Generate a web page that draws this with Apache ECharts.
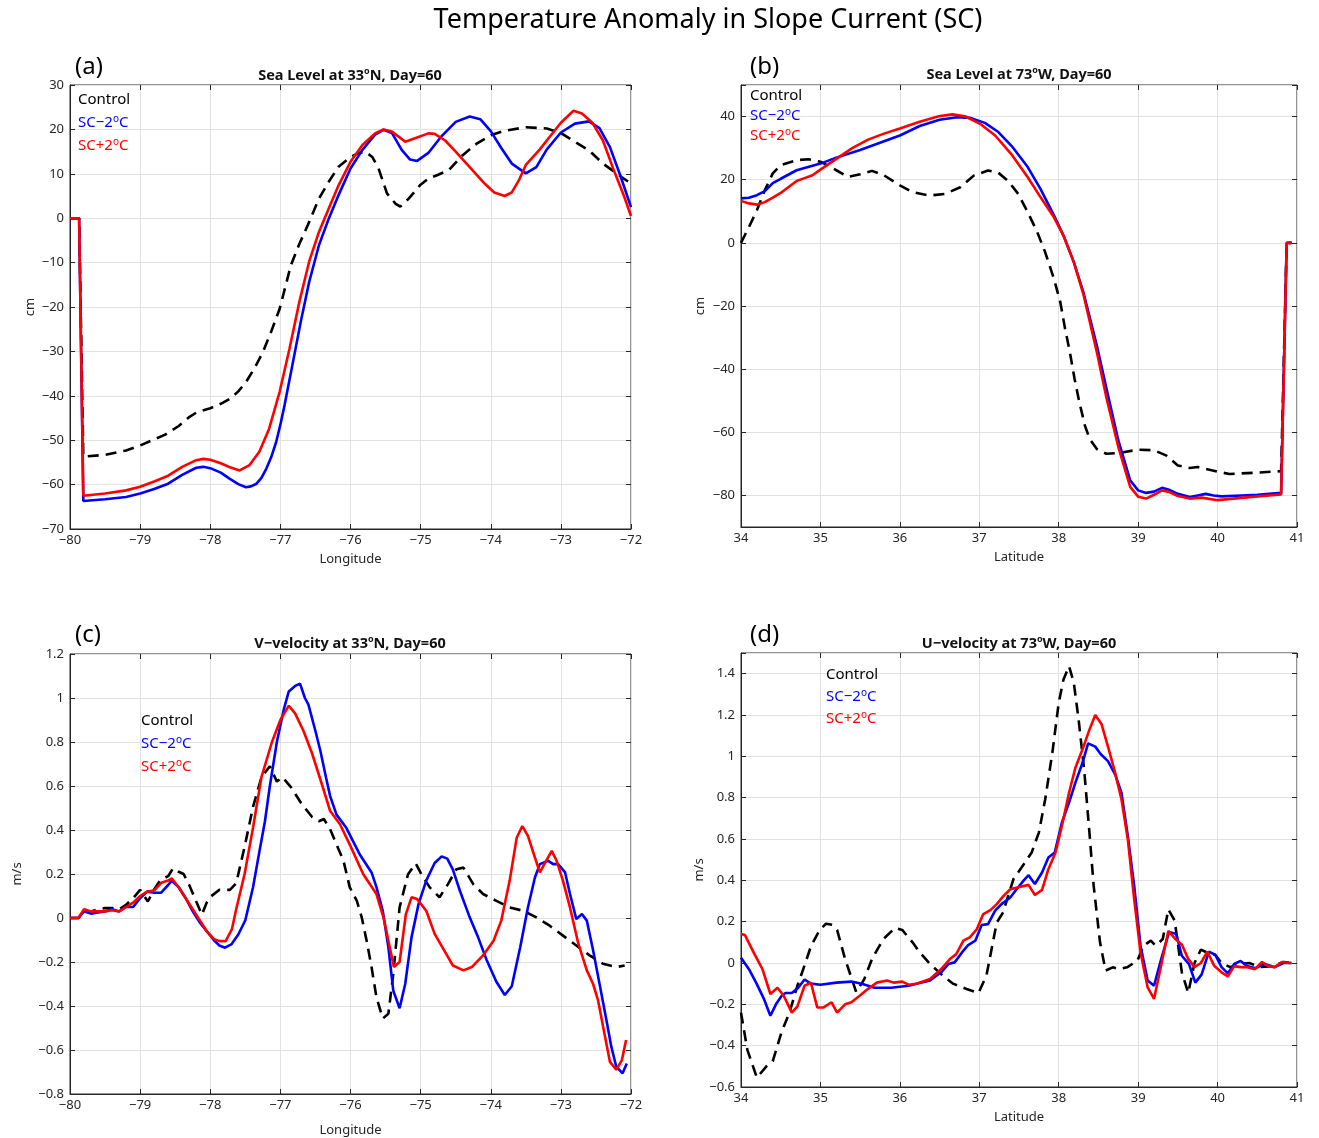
<!DOCTYPE html>
<html><head><meta charset="utf-8">
<script src="https://cdn.jsdelivr.net/npm/echarts@6/dist/echarts.min.js"></script>
<style>html,body{margin:0;padding:0;background:#fff}#c{width:1319px;height:1138px}</style>
</head><body><div id="c"></div><script>
// ---------- DATA ----------
const seriesNames = ['Control', 'SC-2°C', 'SC+2°C'];
// (a) Sea Level at 33N (cm) vs Longitude
const a_ctrl = [[-80,0],[-79.87,0],[-79.81,-53.7],[-79.5,-53.3],[-79.2,-52.3],[-79.0,-51.2],[-78.8,-49.8],[-78.65,-48.8],[-78.45,-46.8],[-78.3,-44.8],[-78.19,-43.7],[-78.0,-42.8],[-77.85,-41.8],[-77.72,-40.7],[-77.6,-39],[-77.49,-36.9],[-77.37,-33.8],[-77.25,-30.2],[-77.13,-25.5],[-77.01,-20.4],[-76.93,-15.5],[-76.85,-10.6],[-76.73,-5.8],[-76.61,-1.6],[-76.45,4.4],[-76.31,8.2],[-76.17,11.6],[-76.0,13.8],[-75.88,14.7],[-75.79,15],[-75.69,13.8],[-75.6,11.2],[-75.48,5.6],[-75.36,3.3],[-75.29,2.6],[-75.17,4.4],[-75.01,7.4],[-74.89,8.9],[-74.75,9.8],[-74.6,10.8],[-74.4,14.2],[-74.2,16.8],[-74.0,18.7],[-73.8,19.7],[-73.5,20.5],[-73.2,20.2],[-73.0,19.2],[-72.8,17.2],[-72.6,15.3],[-72.4,12.3],[-72.2,10],[-72.0,7.8]];
const a_cold = [[-80,0],[-79.87,0],[-79.81,-63.7],[-79.5,-63.3],[-79.2,-62.8],[-79.0,-62],[-78.8,-61],[-78.6,-59.8],[-78.4,-57.8],[-78.2,-56.2],[-78.1,-56],[-78.0,-56.3],[-77.85,-57.3],[-77.72,-58.7],[-77.6,-59.9],[-77.49,-60.6],[-77.42,-60.4],[-77.34,-59.8],[-77.27,-58.5],[-77.2,-56.4],[-77.13,-53.8],[-77.06,-50.4],[-77.0,-46.5],[-76.94,-42.1],[-76.83,-33.2],[-76.71,-23.4],[-76.59,-14.4],[-76.45,-6.1],[-76.31,-0.1],[-76.17,5.2],[-76.0,11.2],[-75.83,15.4],[-75.65,18.8],[-75.53,19.9],[-75.41,19.2],[-75.27,15.4],[-75.15,13.2],[-75.05,12.9],[-74.89,14.7],[-74.7,18.5],[-74.5,21.7],[-74.3,22.9],[-74.15,22.3],[-74.0,19.6],[-73.85,15.8],[-73.7,12.3],[-73.5,10.1],[-73.35,11.5],[-73.2,15.5],[-73.0,19.3],[-72.8,21.3],[-72.6,21.8],[-72.45,20.3],[-72.3,16],[-72.15,9.5],[-72.0,2.5]];
const a_warm = [[-80,0],[-79.87,0],[-79.81,-62.5],[-79.5,-62.0],[-79.2,-61.3],[-79.0,-60.5],[-78.8,-59.3],[-78.6,-58],[-78.4,-56],[-78.2,-54.5],[-78.1,-54.2],[-78.0,-54.4],[-77.85,-55.2],[-77.72,-56.1],[-77.58,-56.8],[-77.44,-55.6],[-77.3,-52.6],[-77.16,-47.4],[-77.01,-39.1],[-76.87,-29.4],[-76.73,-18.9],[-76.59,-9.8],[-76.45,-3.1],[-76.31,2.2],[-76.17,7.4],[-76.0,12.7],[-75.83,16.5],[-75.65,19.1],[-75.53,20],[-75.41,19.5],[-75.3,18.2],[-75.22,17.2],[-75.08,18],[-74.89,19.1],[-74.8,19],[-74.65,17.5],[-74.5,15],[-74.3,11.5],[-74.1,8],[-73.95,5.8],[-73.8,5],[-73.7,5.8],[-73.6,8.5],[-73.5,12],[-73.3,15.5],[-73.15,18.5],[-73.0,21.5],[-72.82,24.2],[-72.7,23.6],[-72.55,21.5],[-72.4,17.5],[-72.25,11],[-72.1,5],[-72.0,0.5]];
// (b) Sea Level at 73W (cm) vs Latitude
const b_ctrl = [[34.0,0],[34.1,5],[34.2,10.3],[34.3,16.7],[34.4,22],[34.5,24.6],[34.7,26.2],[34.85,26.5],[35.0,25.7],[35.2,23],[35.35,20.9],[35.5,21.7],[35.65,22.8],[35.8,21.4],[36.0,18.2],[36.16,16.1],[36.37,15],[36.57,15.5],[36.76,17.6],[36.93,21.3],[37.11,22.9],[37.24,22.2],[37.36,19.7],[37.49,15.5],[37.61,9.7],[37.73,3.4],[37.83,-3],[37.94,-11.4],[38.02,-18.8],[38.08,-27.2],[38.14,-34.6],[38.2,-43.1],[38.26,-50.5],[38.33,-57.9],[38.39,-62.1],[38.48,-65.3],[38.6,-66.8],[38.75,-66.6],[39.0,-65.5],[39.2,-65.7],[39.35,-67.3],[39.5,-70.5],[39.65,-71.3],[39.75,-71],[40.0,-72.5],[40.15,-73.2],[40.5,-72.8],[40.8,-72.3],[40.87,0],[40.93,0]];
const b_cold = [[34.0,14.1],[34.1,14.3],[34.2,15.1],[34.3,16.4],[34.4,18.9],[34.5,20.3],[34.7,23],[35.0,25.1],[35.2,27],[35.5,29.4],[35.75,31.7],[36.0,34],[36.25,37],[36.5,39],[36.72,39.8],[36.88,39.6],[37.07,38],[37.24,35.1],[37.42,30.3],[37.61,24],[37.77,17.1],[37.94,8.7],[38.06,2.3],[38.19,-6.1],[38.31,-15.6],[38.48,-32.5],[38.6,-46],[38.75,-62.5],[38.9,-75.2],[39.0,-78.4],[39.1,-79.2],[39.2,-78.8],[39.3,-77.6],[39.4,-78.3],[39.5,-79.5],[39.65,-80.5],[39.75,-80],[39.85,-79.5],[39.95,-80],[40.05,-80.3],[40.3,-80],[40.5,-79.8],[40.8,-79.2],[40.87,0],[40.93,0]];
const b_warm = [[34.0,13.3],[34.1,12.5],[34.2,12.1],[34.3,12.9],[34.4,14.3],[34.5,15.8],[34.6,17.7],[34.7,19.6],[34.8,20.5],[34.9,21.4],[35.0,23.2],[35.2,26.6],[35.4,30],[35.6,32.7],[35.8,34.6],[36.0,36.2],[36.24,38.3],[36.49,40.1],[36.66,40.7],[36.82,40.1],[37.01,37.7],[37.2,34],[37.4,28.2],[37.61,20.8],[37.77,14.5],[37.94,8.1],[38.06,2.3],[38.19,-6.1],[38.31,-16.2],[38.48,-34.6],[38.6,-49],[38.75,-64.6],[38.9,-77.3],[39.0,-80.4],[39.1,-81],[39.2,-79.8],[39.3,-78.4],[39.4,-79],[39.5,-80.2],[39.65,-81],[39.8,-80.7],[40.0,-81.5],[40.2,-81],[40.5,-80.3],[40.8,-79.7],[40.87,0],[40.93,0]];
// (c) V-velocity at 33N (m/s) vs Longitude
const c_ctrl = [[-80,0],[-79.88,0],[-79.8,0.03],[-79.7,0.03],[-79.6,0.04],[-79.5,0.045],[-79.4,0.045],[-79.3,0.04],[-79.2,0.06],[-79.1,0.09],[-79.0,0.128],[-78.89,0.075],[-78.8,0.13],[-78.71,0.173],[-78.6,0.19],[-78.53,0.226],[-78.45,0.21],[-78.38,0.2],[-78.3,0.15],[-78.23,0.098],[-78.12,0.015],[-78.05,0.07],[-77.99,0.098],[-77.87,0.128],[-77.72,0.128],[-77.63,0.158],[-77.51,0.324],[-77.39,0.505],[-77.27,0.64],[-77.15,0.69],[-77.05,0.62],[-76.97,0.64],[-76.85,0.595],[-76.7,0.52],[-76.55,0.46],[-76.45,0.44],[-76.38,0.45],[-76.29,0.403],[-76.2,0.335],[-76.1,0.26],[-76.01,0.139],[-75.91,0.078],[-75.84,0.003],[-75.77,-0.103],[-75.7,-0.223],[-75.63,-0.36],[-75.54,-0.457],[-75.46,-0.435],[-75.39,-0.254],[-75.3,0.048],[-75.18,0.199],[-75.07,0.248],[-74.99,0.199],[-74.87,0.139],[-74.73,0.094],[-74.61,0.154],[-74.49,0.222],[-74.39,0.229],[-74.25,0.154],[-74.11,0.109],[-73.92,0.078],[-73.73,0.048],[-73.54,0.033],[-73.35,0.003],[-73.16,-0.035],[-72.97,-0.08],[-72.78,-0.125],[-72.59,-0.17],[-72.4,-0.208],[-72.21,-0.223],[-72.09,-0.216]];
const c_cold = [[-80,0],[-79.88,0],[-79.8,0.03],[-79.7,0.02],[-79.6,0.025],[-79.5,0.03],[-79.4,0.04],[-79.3,0.03],[-79.2,0.05],[-79.1,0.05],[-79.0,0.09],[-78.9,0.12],[-78.8,0.115],[-78.7,0.115],[-78.6,0.15],[-78.55,0.17],[-78.45,0.14],[-78.35,0.09],[-78.25,0.03],[-78.15,-0.02],[-78.05,-0.06],[-77.95,-0.1],[-77.87,-0.125],[-77.79,-0.135],[-77.7,-0.12],[-77.6,-0.075],[-77.5,-0.01],[-77.39,0.14],[-77.3,0.3],[-77.22,0.44],[-77.15,0.6],[-77.05,0.8],[-76.95,0.95],[-76.88,1.03],[-76.79,1.055],[-76.72,1.065],[-76.65,1.0],[-76.6,0.97],[-76.5,0.85],[-76.43,0.76],[-76.35,0.64],[-76.29,0.554],[-76.2,0.47],[-76.06,0.41],[-75.87,0.29],[-75.7,0.207],[-75.63,0.14],[-75.54,0.033],[-75.46,-0.133],[-75.39,-0.33],[-75.3,-0.41],[-75.22,-0.3],[-75.13,-0.088],[-75.03,0.063],[-74.92,0.17],[-74.8,0.25],[-74.7,0.28],[-74.62,0.27],[-74.54,0.22],[-74.44,0.124],[-74.3,0.003],[-74.18,-0.088],[-74.06,-0.19],[-73.92,-0.29],[-73.8,-0.35],[-73.7,-0.31],[-73.58,-0.133],[-73.47,0.048],[-73.37,0.184],[-73.3,0.245],[-73.18,0.26],[-73.11,0.245],[-73.04,0.245],[-72.94,0.207],[-72.87,0.109],[-72.78,-0.005],[-72.7,0.018],[-72.63,-0.012],[-72.54,-0.148],[-72.44,-0.314],[-72.35,-0.465],[-72.28,-0.586],[-72.21,-0.676],[-72.12,-0.706],[-72.06,-0.661]];
const c_warm = [[-80,0],[-79.88,0],[-79.8,0.04],[-79.7,0.03],[-79.6,0.03],[-79.5,0.03],[-79.4,0.035],[-79.3,0.03],[-79.2,0.05],[-79.1,0.07],[-79.0,0.1],[-78.9,0.12],[-78.8,0.125],[-78.7,0.16],[-78.6,0.17],[-78.55,0.18],[-78.45,0.14],[-78.35,0.09],[-78.25,0.04],[-78.15,-0.01],[-78.05,-0.06],[-77.95,-0.095],[-77.87,-0.105],[-77.78,-0.105],[-77.69,-0.05],[-77.63,0.04],[-77.51,0.2],[-77.39,0.41],[-77.27,0.64],[-77.12,0.8],[-77.0,0.9],[-76.88,0.965],[-76.79,0.93],[-76.67,0.85],[-76.55,0.75],[-76.4,0.6],[-76.29,0.486],[-76.15,0.426],[-75.99,0.32],[-75.82,0.2],[-75.63,0.109],[-75.53,0.003],[-75.46,-0.103],[-75.38,-0.223],[-75.3,-0.2],[-75.21,0.018],[-75.13,0.094],[-75.05,0.086],[-74.92,0.033],[-74.8,-0.072],[-74.65,-0.155],[-74.54,-0.216],[-74.39,-0.238],[-74.27,-0.223],[-74.11,-0.17],[-73.96,-0.103],[-73.85,-0.012],[-73.73,0.17],[-73.63,0.365],[-73.55,0.418],[-73.47,0.373],[-73.37,0.275],[-73.3,0.207],[-73.21,0.26],[-73.13,0.305],[-73.06,0.26],[-72.97,0.169],[-72.87,0.048],[-72.75,-0.118],[-72.63,-0.238],[-72.54,-0.3],[-72.47,-0.374],[-72.37,-0.54],[-72.3,-0.654],[-72.21,-0.69],[-72.13,-0.646],[-72.07,-0.555]];
// (d) U-velocity at 73W (m/s) vs Latitude
const d_ctrl = [[34.0,-0.24],[34.08,-0.42],[34.2,-0.555],[34.32,-0.5],[34.4,-0.475],[34.51,-0.335],[34.61,-0.24],[34.71,-0.11],[34.77,-0.045],[34.88,0.08],[34.99,0.16],[35.07,0.19],[35.15,0.185],[35.21,0.16],[35.31,0.02],[35.45,-0.14],[35.55,-0.08],[35.65,0.02],[35.79,0.115],[35.94,0.17],[36.03,0.16],[36.16,0.1],[36.25,0.052],[36.38,-0.005],[36.54,-0.061],[36.67,-0.1],[36.84,-0.126],[36.99,-0.145],[37.09,-0.061],[37.22,0.196],[37.3,0.245],[37.43,0.406],[37.56,0.478],[37.66,0.535],[37.75,0.631],[37.83,0.792],[37.92,1.018],[38.0,1.259],[38.06,1.372],[38.13,1.436],[38.19,1.356],[38.25,1.179],[38.32,0.937],[38.38,0.663],[38.44,0.374],[38.52,0.1],[38.59,-0.037],[38.68,-0.021],[38.76,-0.029],[38.86,-0.021],[38.99,0.011],[39.07,0.084],[39.16,0.108],[39.22,0.084],[39.31,0.116],[39.38,0.26],[39.46,0.205],[39.55,-0.045],[39.63,-0.145],[39.71,0.0],[39.79,0.065],[39.87,0.05],[39.97,0.04],[40.05,0.0],[40.16,-0.02],[40.27,-0.005],[40.4,0.0],[40.53,-0.02],[40.69,-0.015],[40.83,0.005],[40.93,0]];
const d_cold = [[34.0,0.025],[34.1,-0.03],[34.19,-0.095],[34.29,-0.175],[34.37,-0.255],[34.44,-0.2],[34.51,-0.16],[34.56,-0.145],[34.64,-0.145],[34.72,-0.12],[34.8,-0.08],[34.88,-0.1],[35.0,-0.105],[35.2,-0.095],[35.39,-0.09],[35.52,-0.1],[35.68,-0.12],[35.89,-0.12],[36.11,-0.11],[36.21,-0.1],[36.38,-0.085],[36.52,-0.045],[36.61,-0.005],[36.69,0.003],[36.78,0.05],[36.86,0.087],[36.95,0.108],[37.03,0.184],[37.11,0.188],[37.2,0.253],[37.28,0.285],[37.39,0.317],[37.47,0.357],[37.56,0.4],[37.62,0.425],[37.7,0.382],[37.79,0.438],[37.87,0.51],[37.95,0.535],[38.04,0.68],[38.13,0.776],[38.21,0.873],[38.3,0.969],[38.37,1.063],[38.46,1.047],[38.53,1.01],[38.62,0.977],[38.71,0.913],[38.79,0.824],[38.87,0.615],[38.95,0.374],[39.03,0.084],[39.12,-0.085],[39.2,-0.11],[39.29,0.019],[39.39,0.15],[39.48,0.14],[39.55,0.035],[39.64,-0.005],[39.72,-0.095],[39.8,-0.055],[39.89,0.055],[39.97,0.04],[40.05,-0.02],[40.13,-0.05],[40.21,-0.005],[40.29,0.01],[40.37,-0.015],[40.48,-0.025],[40.59,-0.005],[40.72,-0.02],[40.83,0.0],[40.93,0]];
const d_warm = [[34.0,0.14],[34.05,0.135],[34.16,0.05],[34.27,-0.03],[34.37,-0.15],[34.46,-0.12],[34.54,-0.16],[34.64,-0.24],[34.71,-0.21],[34.8,-0.11],[34.88,-0.095],[34.96,-0.215],[35.04,-0.215],[35.14,-0.19],[35.21,-0.24],[35.31,-0.2],[35.39,-0.19],[35.49,-0.16],[35.6,-0.125],[35.71,-0.095],[35.84,-0.085],[35.92,-0.095],[36.03,-0.09],[36.11,-0.105],[36.21,-0.1],[36.38,-0.077],[36.52,-0.029],[36.63,0.019],[36.71,0.043],[36.8,0.108],[36.88,0.124],[36.97,0.164],[37.05,0.237],[37.14,0.256],[37.22,0.285],[37.3,0.322],[37.39,0.357],[37.49,0.366],[37.62,0.378],[37.7,0.329],[37.79,0.354],[37.87,0.454],[37.96,0.535],[38.04,0.663],[38.13,0.824],[38.21,0.945],[38.3,1.034],[38.38,1.122],[38.46,1.2],[38.54,1.155],[38.63,1.034],[38.71,0.921],[38.79,0.792],[38.87,0.599],[38.95,0.309],[39.03,0.052],[39.12,-0.118],[39.2,-0.174],[39.28,-0.029],[39.38,0.155],[39.47,0.115],[39.55,0.09],[39.63,0.02],[39.71,-0.02],[39.79,0.0],[39.87,0.055],[39.96,-0.015],[40.05,-0.045],[40.13,-0.065],[40.21,-0.015],[40.29,-0.02],[40.37,-0.02],[40.47,-0.03],[40.56,0.005],[40.64,-0.015],[40.72,-0.02],[40.81,0.005],[40.91,0.0],[40.93,0]];

const panelTitles = ['Sea Level at 33{s|o}N, Day=60', 'Sea Level at 73{s|o}W, Day=60', 'V\u2212velocity at 33{s|o}N, Day=60', 'U\u2212velocity at 73{s|o}W, Day=60'];
const panelLetters = ['(a)', '(b)', '(c)', '(d)'];
const xNames = ['Longitude', 'Latitude', 'Longitude', 'Latitude'];
const yNames = ['cm', 'cm', 'm/s', 'm/s'];
const xRanges = [[-80, -72, 1], [34, 41, 1], [-80, -72, 1], [34, 41, 1]];
const yRanges = [[-70, 30, 10], [-90, 50, 20], [-0.8, 1.2, 0.2], [-0.6, 1.5, 0.2]];
const panelData = [[a_ctrl, a_cold, a_warm], [b_ctrl, b_cold, b_warm], [c_ctrl, c_cold, c_warm], [d_ctrl, d_cold, d_warm]];

// ---------- LAYOUT / STYLE ----------
const FONT = "'Noto Sans', 'DejaVu Sans', sans-serif";
const AX = '#262626', GRIDC = '#e2e2e2';
const colors = ['#000000', '#0000ff', '#ff0000'];
const grids = [
  {left: 70, top: 85, width: 561, height: 444},
  {left: 741, top: 85, width: 556, height: 442},
  {left: 70, top: 654, width: 561, height: 441},
  {left: 741, top: 653, width: 556, height: 434}
];
const xNameGap = [24, 24, 30, 24];
const yNameGap = [33, 34, 46, 31];
const titlePos = [[350, 67], [1019, 66], [350, 635], [1019, 635]];
const letterPos = [[75, 55], [750, 55], [75, 623], [750, 623]];
const legendPos = [[72, 91, 5], [744, 87, 2], [135, 712, 5], [820, 666, 4]];

const fmtNum = v => {
  const s = String(+(+v).toFixed(2));
  return s.charAt(0) === '-' ? '\u2212' + s.slice(1) : s;
};

function yAxisFor(i, right) {
  const [mn, mx, step] = yRanges[i];
  const ax = {
    type: 'value', gridIndex: i, min: mn, max: mx,
    position: right ? 'right' : 'left',
    axisLine: {show: !right, onZero: false, lineStyle: {color: AX, width: 1}},
    axisTick: {show: true, inside: true, length: 5, lineStyle: {color: AX}},
    splitLine: {show: !right, lineStyle: {color: GRIDC, width: 1}},
    axisLabel: {show: !right, color: AX, fontFamily: FONT, fontSize: 13, margin: 6,
      formatter: v => {
        if (i === 1 && (Math.abs(v - mn) < 1e-9 || Math.abs(v - mx) < 1e-9)) return '';
        if (i === 3 && Math.abs(v - mx) < 1e-9) return '';
        return fmtNum(v);
      }},
    name: right ? '' : yNames[i], nameLocation: 'middle', nameGap: yNameGap[i],
    nameTextStyle: {color: AX, fontFamily: FONT, fontSize: 13}
  };
  if (i === 1) { ax.splitNumber = 7; } else { ax.interval = step; }
  return ax;
}
function xAxisFor(i, top) {
  const [mn, mx, step] = xRanges[i];
  return {
    type: 'value', gridIndex: i, min: mn, max: mx, interval: step,
    position: top ? 'top' : 'bottom',
    axisLine: {show: !top, onZero: false, lineStyle: {color: AX, width: 1}},
    axisTick: {show: true, inside: true, length: 5, lineStyle: {color: AX}},
    splitLine: {show: !top, lineStyle: {color: GRIDC, width: 1}},
    axisLabel: {show: !top, color: AX, fontFamily: FONT, fontSize: 13, margin: 5, formatter: fmtNum},
    name: top ? '' : xNames[i], nameLocation: 'middle', nameGap: xNameGap[i],
    nameTextStyle: {color: AX, fontFamily: FONT, fontSize: 13}
  };
}

const xAxes = [], yAxes = [], series = [], titles = [], legends = [];
for (let i = 0; i < 4; i++) {
  xAxes.push(xAxisFor(i, false));
  yAxes.push(yAxisFor(i, false));
}
for (let i = 0; i < 4; i++) {
  xAxes.push(xAxisFor(i, true));
  yAxes.push(yAxisFor(i, true));
}
titles.push({text: 'Temperature Anomaly in Slope Current (SC)', left: 708, top: 7, textAlign: 'center', padding: 0,
  textStyle: {fontFamily: FONT, fontSize: 27, fontWeight: 'normal', color: '#000'}});
for (let i = 0; i < 4; i++) {
  titles.push({text: panelTitles[i], left: titlePos[i][0], top: titlePos[i][1], textAlign: 'center', padding: 0,
    textStyle: {fontFamily: FONT, fontSize: 14.5, fontWeight: 'bold', color: '#111', lineHeight: 17,
      rich: {s: {fontFamily: FONT, fontSize: 9, fontWeight: 'bold', color: '#111', verticalAlign: 'top', lineHeight: 9}}}});
  titles.push({text: panelLetters[i], left: letterPos[i][0], top: letterPos[i][1], padding: 0,
    textStyle: {fontFamily: FONT, fontSize: 24, fontWeight: 'normal', color: '#000'}});
  legends.push({
    left: legendPos[i][0], top: legendPos[i][1], orient: 'vertical', padding: 0,
    itemWidth: 0, itemHeight: 0, itemGap: legendPos[i][2], selectedMode: false,
    data: seriesNames.map((n, k) => ({name: n, textStyle: {color: colors[k]}})),
    formatter: n => n.replace('°', '{s|o}').replace('-', '\u2212'),
    textStyle: {fontFamily: FONT, fontSize: 15, lineHeight: 18,
      rich: {s: {fontFamily: FONT, fontSize: 10, verticalAlign: 'top', lineHeight: 10}}}
  });
  panelData[i].forEach((d, k) => {
    series.push({
      type: 'line', name: seriesNames[k], xAxisIndex: i, yAxisIndex: i, data: d,
      symbol: 'none', showSymbol: false, smooth: false, z: 2 + k,
      lineStyle: {color: colors[k], width: 2.6, type: k === 0 ? [11, 7] : 'solid'},
      itemStyle: {color: colors[k]}
    });
  });
}

const chart = echarts.init(document.getElementById('c'), null, {renderer: 'canvas'});
chart.setOption({
  animation: false,
  backgroundColor: '#ffffff',
  title: titles,
  legend: legends,
  grid: grids.map(g => Object.assign({show: true, borderColor: AX, borderWidth: 1, backgroundColor: 'transparent', containLabel: false}, g)),
  xAxis: xAxes,
  yAxis: yAxes,
  series: series
});
</script></body></html>
